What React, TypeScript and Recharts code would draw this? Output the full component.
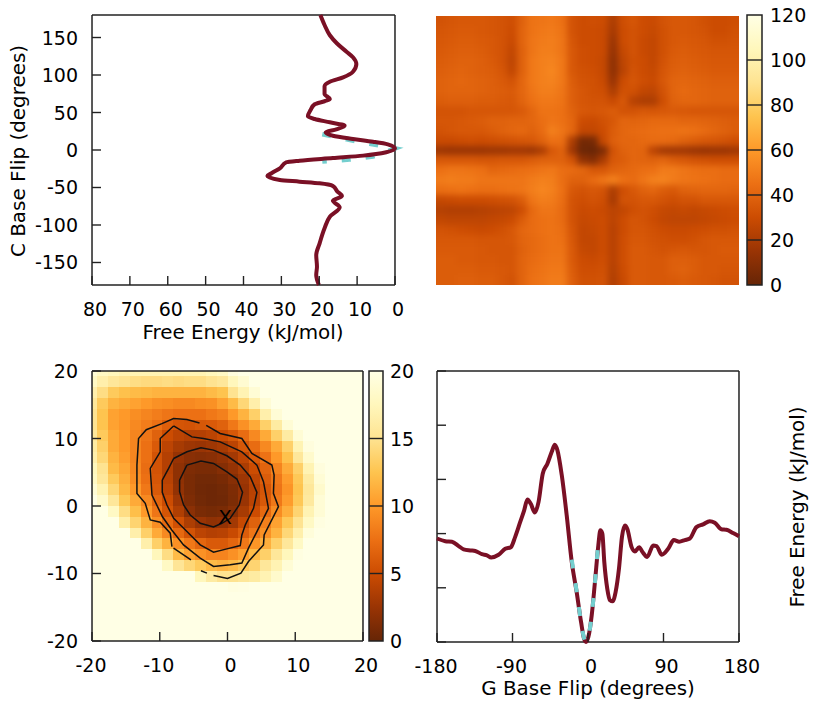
import React from 'react';
import {
  BarChart,
  Bar,
  ScatterChart,
  Scatter,
  XAxis,
  YAxis,
  ReferenceArea,
  ReferenceLine,
  ReferenceDot,
} from 'recharts';

const FONT = '"DejaVu Sans", sans-serif';
const INK = '#222';
const MAROON = '#7a1025';
const TEAL = '#74cfcf';

// C base flip free energy profile
const cFlipAngle = [180, 166.7, 153, 142, 131, 123.6, 114.7, 104.4, 96.9, 91, 85, 74.7, 68, 65, 61, 53.3, 45, 41.3, 36.9, 32.4, 27.6, 23.6, 19, 14.7, 11, 7.5, 2.2, -3, -7.5, -10.7, -14.2, -16.4, -24.4, -31, -34.7, -40, -42.2, -44.4, -48, -55.5, -61.3, -67.5, -76.4, -89, -104.4, -124.4, -140, -155.6, -166.7, -180];
const cFlipEnergy = [19.7, 18.6, 17.2, 15.3, 12.8, 11.1, 10.2, 11.1, 13.7, 17.2, 18.6, 18.6, 17.2, 18.6, 21.2, 22.3, 23, 21.2, 17.2, 13.3, 15.5, 18.3, 16.4, 11.1, 5.8, 1.9, 0, 2.3, 8.4, 16.4, 25.2, 28.7, 30.4, 32.6, 33.7, 30.4, 25.2, 19.9, 16.4, 15.2, 14, 16.4, 14.6, 17.2, 18.6, 19.9, 20.8, 20.6, 20.8, 20.1];
const cFitAngle = [21, 14.2, 8.4, 2, -8.7, -12.7, -15.4];
const cFitEnergy = [19.2, 12.8, 6.7, 0, 5.8, 12, 19.2];

// G base flip free energy profile
const gFlipAngle = [-180, -170.1, -162.2, -154.2, -148.3, -140.3, -134.4, -126.5, -120.5, -115.4, -106.6, -98.7, -92, -86.8, -80.9, -76.1, -72.2, -68.2, -63.4, -59, -53.9, -48.4, -43.2, -39.6, -36.5, -31.3, -25.4, -19.4, -13.5, -8.3, -4.7, -2.4, 0.4, 4.4, 8.3, 12.3, 14.7, 17.1, 19.4, 23, 26.2, 29.4, 32.9, 36.9, 40.5, 44, 46.8, 52, 55.9, 61, 65, 70.6, 77.7, 81.7, 88, 95.6, 102.3, 108.7, 115.4, 121.4, 129.3, 137.2, 145.1, 151.1, 159, 165, 172.9, 180];
const gFlipEnergy = [19.1, 18.6, 18.5, 17.7, 17.1, 16.9, 16.8, 16.2, 16, 15.6, 16.1, 17.2, 17.5, 19.4, 22.1, 24.3, 26.3, 25.5, 23.9, 25.8, 31.1, 32.9, 35.1, 36.4, 35.4, 30.8, 23.4, 14.8, 9.2, 3.7, 0.6, 0, 0.9, 4.9, 11.1, 17.8, 20.6, 20, 14.8, 9.8, 7.7, 7.5, 9.2, 13.5, 19.4, 21.5, 20.9, 17.5, 16.7, 17.5, 16.6, 15.7, 17.8, 17.7, 16.1, 17.2, 18.8, 18.5, 18.8, 19.1, 21.2, 21.7, 22.3, 22, 20.8, 20.7, 20.1, 19.5];
const gFitAngle = [-19.4, -13.5, -8.3, -4.7, -2.4, 0.4, 4.4, 8.3, 11.5];
const gFitEnergy = [15.2, 9.3, 3.7, 0.7, 0, 0.9, 4.9, 11, 17];

// 2D surface, 30 columns by 27 rows, top row first (0-120 kJ/mol)
const wideSurface = [
  [33, 34, 35, 35, 35, 34, 33, 31, 39, 46, 47, 48, 45, 33, 30, 31, 30, 21, 31, 34, 30, 29, 33, 35, 35, 34, 32, 30, 30, 31],
  [34, 35, 36, 36, 35, 34, 33, 30, 40, 46, 48, 49, 46, 33, 30, 30, 29, 19, 30, 33, 30, 28, 32, 35, 35, 34, 33, 30, 30, 32],
  [35, 36, 37, 37, 36, 35, 33, 29, 40, 47, 49, 50, 47, 34, 30, 30, 29, 16, 30, 33, 29, 27, 32, 35, 36, 35, 34, 32, 32, 33],
  [36, 37, 38, 38, 37, 35, 33, 27, 39, 47, 50, 50, 47, 35, 31, 30, 29, 14, 28, 33, 29, 27, 32, 36, 37, 36, 35, 34, 34, 34],
  [37, 38, 39, 39, 38, 36, 33, 26, 39, 48, 51, 52, 48, 35, 31, 30, 28, 12, 26, 32, 30, 27, 33, 37, 38, 37, 36, 35, 35, 35],
  [38, 39, 40, 39, 38, 37, 34, 27, 39, 48, 51, 53, 48, 35, 32, 31, 28, 12, 25, 33, 30, 28, 34, 38, 39, 38, 37, 36, 36, 36],
  [39, 40, 41, 40, 39, 38, 36, 33, 41, 48, 51, 52, 48, 37, 33, 32, 29, 15, 30, 34, 31, 29, 35, 40, 41, 40, 39, 38, 38, 38],
  [39, 40, 40, 40, 39, 38, 37, 36, 41, 47, 50, 50, 47, 38, 34, 32, 31, 21, 32, 32, 27, 26, 33, 40, 42, 41, 40, 39, 39, 39],
  [37, 38, 38, 38, 37, 37, 36, 35, 40, 45, 48, 48, 46, 38, 34, 33, 33, 29, 35, 24, 21, 21, 31, 39, 41, 41, 40, 39, 39, 39],
  [33, 33, 33, 34, 34, 34, 34, 34, 36, 41, 46, 46, 45, 39, 35, 34, 35, 37, 33, 33, 35, 34, 35, 36, 35, 34, 34, 34, 34, 34],
  [34, 34, 35, 36, 37, 39, 39, 40, 40, 41, 44, 47, 45, 41, 30, 29, 32, 35, 41, 40, 41, 42, 42, 42, 41, 41, 40, 39, 38, 37],
  [33, 34, 35, 35, 35, 37, 39, 41, 42, 39, 43, 51, 47, 41, 27, 27, 30, 37, 41, 42, 43, 44, 45, 45, 46, 45, 43, 41, 39, 37],
  [29, 29, 30, 31, 30, 31, 32, 33, 34, 35, 39, 45, 44, 21, 4, 5, 28, 38, 41, 41, 42, 43, 43, 42, 39, 37, 35, 34, 33, 31],
  [16, 15, 15, 15, 15, 16, 16, 17, 17, 16, 21, 35, 39, 17, 2, 1, 7, 33, 39, 41, 40, 25, 18, 17, 17, 15, 14, 15, 15, 17],
  [35, 35, 35, 35, 34, 34, 35, 35, 35, 37, 39, 39, 39, 33, 13, 9, 20, 35, 37, 41, 40, 39, 41, 37, 35, 33, 32, 31, 31, 31],
  [45, 47, 47, 46, 45, 41, 42, 43, 44, 45, 47, 48, 44, 43, 41, 35, 35, 39, 41, 42, 44, 45, 49, 49, 47, 45, 44, 44, 43, 43],
  [49, 50, 49, 49, 47, 47, 47, 47, 47, 49, 51, 50, 44, 39, 39, 43, 47, 51, 45, 43, 47, 51, 52, 49, 47, 46, 45, 44, 43, 43],
  [44, 45, 46, 45, 44, 44, 45, 46, 47, 50, 53, 51, 45, 35, 33, 35, 33, 21, 31, 35, 39, 41, 37, 35, 39, 40, 41, 41, 41, 40],
  [28, 29, 30, 30, 30, 31, 32, 33, 37, 47, 50, 49, 44, 33, 31, 33, 31, 19, 33, 33, 35, 35, 33, 31, 33, 33, 35, 35, 35, 35],
  [23, 22, 22, 22, 23, 24, 25, 26, 31, 42, 47, 47, 43, 33, 29, 30, 29, 25, 27, 31, 33, 31, 28, 27, 28, 27, 28, 29, 30, 31],
  [27, 26, 26, 26, 26, 27, 28, 30, 37, 43, 45, 46, 43, 33, 28, 29, 30, 25, 30, 34, 33, 30, 27, 26, 26, 26, 27, 28, 29, 30],
  [33, 32, 31, 30, 29, 30, 32, 35, 41, 43, 45, 46, 44, 34, 27, 28, 30, 24, 30, 34, 34, 32, 30, 29, 29, 30, 31, 32, 32, 33],
  [35, 35, 35, 35, 34, 34, 34, 35, 40, 42, 44, 46, 45, 35, 27, 27, 30, 24, 31, 35, 35, 33, 32, 31, 31, 32, 34, 35, 35, 35],
  [36, 36, 36, 36, 35, 34, 34, 34, 39, 42, 44, 46, 46, 36, 28, 27, 30, 24, 31, 36, 36, 34, 33, 34, 35, 34, 34, 35, 36, 36],
  [37, 37, 36, 36, 35, 35, 34, 34, 40, 43, 45, 47, 47, 36, 30, 29, 31, 24, 31, 36, 36, 35, 35, 38, 38, 37, 35, 35, 35, 35],
  [37, 37, 37, 37, 36, 36, 35, 34, 40, 44, 46, 48, 48, 37, 31, 31, 32, 23, 30, 36, 36, 35, 35, 38, 39, 37, 35, 35, 34, 34],
  [37, 37, 38, 38, 37, 37, 35, 33, 40, 45, 47, 49, 49, 38, 32, 32, 33, 22, 29, 36, 36, 35, 35, 36, 37, 36, 35, 34, 33, 33],
];

// zoomed surface around the minimum, bin edges clipped at +-20
const zoomEdges = [-20, -19.2, -17.6, -16, -14.4, -12.8, -11.2, -9.6, -8, -6.4, -4.8, -3.2, -1.6, 0, 1.6, 3.2, 4.8, 6.4, 8, 9.6, 11.2, 12.8, 14.4, 16, 17.6, 19.2, 20];
// top row first, rows and columns follow zoomEdges
const zoomSurface = [
  [19, 18, 17.5, 17, 17, 17, 17, 17, 17, 17, 17, 17.5, 18, 19.5, 20, 20, 20, 20, 20, 20, 20, 20, 20, 20, 20, 20],
  [18, 16.5, 15.5, 15, 14.5, 14.3, 14.3, 14.5, 14.3, 14.5, 14.5, 15, 15.5, 17.5, 18.8, 20, 20, 20, 20, 20, 20, 20, 20, 20, 20, 20],
  [16.5, 14.5, 13, 12.3, 12, 11.8, 11.5, 11.5, 11.5, 11.5, 11.5, 12, 12.5, 15, 17, 19, 20, 20, 20, 20, 20, 20, 20, 20, 20, 20],
  [15.5, 13, 11.5, 11, 10.5, 10, 9.5, 9.3, 9, 9, 9.3, 9.5, 10.5, 12, 14, 16.5, 19, 20, 20, 20, 20, 20, 20, 20, 20, 20],
  [15, 12.5, 10.5, 10, 9.3, 8.8, 8.3, 7.8, 7.5, 7.5, 7.5, 8, 8.5, 10, 11.5, 13.5, 16.5, 19, 20, 20, 20, 20, 20, 20, 20, 20],
  [15, 12.5, 10.5, 9.8, 9, 8.3, 7.5, 6.3, 5.6, 5.5, 5.8, 6, 6.5, 8, 9.5, 11, 13.5, 16, 19, 20, 20, 20, 20, 20, 20, 20],
  [15.5, 13, 11, 10, 8.8, 7.8, 6.5, 5, 4.2, 3.8, 3.8, 4.2, 5, 5.8, 7.2, 9, 11, 13.5, 16, 19, 20, 20, 20, 20, 20, 20],
  [16, 13.5, 11, 10, 8.8, 7.5, 6, 4.2, 3.2, 2.7, 2.5, 2.8, 3.2, 4.2, 5.8, 7.2, 9, 11, 13.5, 17, 19.5, 20, 20, 20, 20, 20],
  [16.5, 14, 11.5, 10.3, 8.8, 7.5, 5.5, 3.8, 2.4, 1.7, 1.5, 1.7, 2.2, 3, 4.3, 6, 7.6, 10, 12.3, 15.5, 18.5, 20, 20, 20, 20, 20],
  [17.5, 15, 12, 10.8, 9, 7.3, 5.5, 3.8, 2, 1.2, 1, 1, 1.5, 2.3, 3.4, 5, 6.7, 8.7, 11, 13.5, 17, 19.5, 20, 20, 20, 20],
  [18, 15.5, 13, 11.3, 9.3, 7.5, 5.7, 4, 2, 1, 0.6, 0.6, 0.9, 1.6, 2.7, 4.3, 6.2, 8, 10.2, 12.8, 16, 19, 20, 20, 20, 20],
  [19, 17, 14, 11.8, 10, 8, 6, 4.3, 2.2, 1, 0.5, 0.4, 0.6, 1.2, 2.4, 4, 5.7, 7.7, 9.7, 12.5, 15.5, 18.5, 20, 20, 20, 20],
  [20, 18.5, 15.5, 12.8, 11, 9, 6.8, 5, 2.8, 1.2, 0.6, 0.4, 0.5, 1.1, 2.5, 4.1, 5.9, 8, 10.2, 12.8, 15.8, 19, 20, 20, 20, 20],
  [20, 20, 18, 14.5, 12.2, 10, 7.8, 5.6, 3.6, 1.8, 1, 0.8, 1, 1.6, 3.2, 5, 7, 9.2, 11.2, 13.8, 17, 19, 20, 20, 20, 20],
  [20, 20, 20, 16.5, 13.8, 11.5, 9.3, 7, 5.3, 3.5, 2.5, 2, 2.2, 3, 4.7, 6.5, 8.5, 10.5, 12.8, 15, 18, 19.7, 20, 20, 20, 20],
  [20, 20, 20, 20, 16.5, 13.5, 11, 9, 7, 5.5, 4.2, 3.8, 4, 4.8, 6.2, 7.8, 9.5, 11.5, 14, 16.5, 19.3, 20, 20, 20, 20, 20],
  [20, 20, 20, 20, 20, 16.5, 13.5, 11.5, 9.5, 8, 6.8, 6, 6, 6.8, 8, 9.8, 11.3, 13.5, 15.5, 18, 20, 20, 20, 20, 20, 20],
  [20, 20, 20, 20, 20, 20, 17.5, 14.5, 12, 10.5, 9.5, 8.8, 8.7, 9.5, 10.5, 12, 13.5, 15.5, 17.5, 19.7, 20, 20, 20, 20, 20, 20],
  [20, 20, 20, 20, 20, 20, 20, 18, 15.3, 14, 13, 12, 11.5, 12, 13, 13.8, 15.5, 17, 19, 20, 20, 20, 20, 20, 20, 20],
  [20, 20, 20, 20, 20, 20, 20, 20, 20, 20, 17.5, 16, 15, 15, 15.5, 16, 17, 18.5, 20, 20, 20, 20, 20, 20, 20, 20],
  [20, 20, 20, 20, 20, 20, 20, 20, 20, 20, 20, 20, 20, 19.7, 19.8, 20, 20, 20, 20, 20, 20, 20, 20, 20, 20, 20],
  [20, 20, 20, 20, 20, 20, 20, 20, 20, 20, 20, 20, 20, 20, 20, 20, 20, 20, 20, 20, 20, 20, 20, 20, 20, 20],
  [20, 20, 20, 20, 20, 20, 20, 20, 20, 20, 20, 20, 20, 20, 20, 20, 20, 20, 20, 20, 20, 20, 20, 20, 20, 20],
  [20, 20, 20, 20, 20, 20, 20, 20, 20, 20, 20, 20, 20, 20, 20, 20, 20, 20, 20, 20, 20, 20, 20, 20, 20, 20],
  [20, 20, 20, 20, 20, 20, 20, 20, 20, 20, 20, 20, 20, 20, 20, 20, 20, 20, 20, 20, 20, 20, 20, 20, 20, 20],
  [20, 20, 20, 20, 20, 20, 20, 20, 20, 20, 20, 20, 20, 20, 20, 20, 20, 20, 20, 20, 20, 20, 20, 20, 20, 20],
];

// contour segments of the zoomed surface
const contours: number[][][] = [
  [[-5.99, 6.06], [-3.92, 6.65], [-2.06, 6.31], [-0.09, 5.07], [1.39, 3.99], [2.22, 2.02], [1.73, 0.15], [0.4, -1.82], [-0.83, -2.56], [-2.06, -3.1], [-4.02, -2.56], [-5.5, -1.33], [-6.48, 0.15], [-7.07, 2.12], [-7.07, 3.84], [-5.99, 6.06]],
  [[-7.95, 7.04], [-5.99, 8.03], [-3.92, 8.62], [-2.06, 8.28], [-0.09, 7.44], [1.88, 6.06], [3.35, 4.33], [4.34, 2.02], [3.84, -0.34], [2.62, -2.81], [2.12, -4.29], [1.88, -5.86], [-0.09, -6.35], [-2.06, -6.85], [-4.02, -5.76], [-5.99, -3.79], [-7.95, -1.82], [-8.94, 0.15], [-9.63, 2.02], [-9.63, 3.84], [-8.69, 5.57], [-7.95, 7.04]],
  [[-7.96, 11.86], [-5.25, 10.24], [-3.54, 10], [-1.08, 9.5], [2.12, 8.02], [4.34, 6.06], [5.31, 3.6], [6.05, -0.34], [4.34, -3.79], [3.1, -6.25], [2.12, -8.46], [0.4, -8.71], [-2.06, -8.96], [-4.03, -7.73], [-6.49, -5.76], [-8.2, -3.6], [-9.6, -1.6], [-11.15, 1.62], [-11.4, 5.57], [-9.93, 8.02], [-9.93, 10], [-7.96, 11.86]],
  [[-4.13, 12.3], [-5.99, 12.8], [-7.96, 12.95], [-9.68, 12.2], [-11.99, 11.3], [-13.13, 10], [-13.37, 6.06], [-13.37, 1.87], [-12.14, 0.39], [-11.4, -2.07], [-9.93, -2.41], [-8.45, -4.03], [-8.2, -6.01]],
  [[-7.96, -6.25], [-5.4, -7.98]],
  [[-3.92, -9.6], [-3.04, -9.94]],
  [[-2.06, -10.3], [0, -10.74], [1.98, -9.94], [3.1, -8.23], [5.31, -5.76], [5.41, -4.28], [7.52, -0.1], [6.78, 1.87], [6.88, 4.58], [6.55, 6.06], [3.6, 7.78], [2.12, 10], [-1.08, 10.74], [-3.14, 11.96]],
];
const minimumMark = { x: -0.37, y: -1.6 };

// tick labels
const cEnergyTicks = [80, 70, 60, 50, 40, 30, 20, 10, 0];
const cAngleTicks = [-150, -100, -50, 0, 50, 100, 150];
const zoomTicks = [-20, -10, 0, 10, 20];
const gAngleTicks = [-180, -90, 0, 90, 180];
const gEnergyTicks = [0, 10, 20, 30, 40, 50];
const wideBarTicks = [0, 20, 40, 60, 80, 100, 120];
const zoomBarTicks = [0, 5, 10, 15, 20];

// reversed YlOrBr palette, dark at 0
const paletteStops = ['#662506', '#993404', '#cc4c02', '#ec7014', '#fe9929', '#fec44f', '#fee391', '#fff7bc', '#ffffe5'];

const hexToRgb = (hex: string) => [1, 3, 5].map((i) => parseInt(hex.slice(i, i + 2), 16));

const paletteColor = (t: number) => {
  const p = Math.min(Math.max(t, 0), 1) * (paletteStops.length - 1);
  const i = Math.min(Math.floor(p), paletteStops.length - 2);
  const a = hexToRgb(paletteStops[i]);
  const b = hexToRgb(paletteStops[i + 1]);
  const mix = a.map((v, k) => Math.round(v + (b[k] - v) * (p - i)));
  return `rgb(${mix.join(',')})`;
};

const toPoints = (xs: number[], ys: number[]) => xs.map((x, i) => ({ x, y: ys[i] }));
const pairsToPoints = (pairs: number[][]) => pairs.map(([x, y]) => ({ x, y }));

const noMarker = () => <g />;

const textStyle = { fontFamily: FONT, fontSize: 19, fill: '#000' };
const titleStyle = { fontFamily: FONT, fontSize: 19.9, fill: '#000' };

// gnuplot style ticks: pointing inwards, with an optional label outside the frame
const frameTick = (side: string, labelled: boolean) => (props: any) => {
  const { x, y, payload } = props;
  const v = payload.value;
  const nudge = v < 0 ? -1 : 3;
  if (side === 'bottom') {
    return (
      <g>
        <line x1={x} x2={x} y1={y} y2={y - 9} stroke={INK} strokeWidth={1.4} />
        {labelled && <text x={x + nudge} y={y + 31} textAnchor="middle" style={textStyle}>{v}</text>}
      </g>
    );
  }
  if (side === 'top') {
    return <line x1={x} x2={x} y1={y} y2={y + 9} stroke={INK} strokeWidth={1.4} />;
  }
  if (side === 'left') {
    return (
      <g>
        <line x1={x} x2={x + 9} y1={y} y2={y} stroke={INK} strokeWidth={1.4} />
        {labelled && <text x={x - 14} y={y + 7} textAnchor="end" style={textStyle}>{v}</text>}
      </g>
    );
  }
  return (
    <g>
      <line x1={x} x2={x - 9} y1={y} y2={y} stroke={INK} strokeWidth={1.4} />
      {labelled && <text x={x + 20} y={y + 7} textAnchor="start" style={textStyle}>{v}</text>}
    </g>
  );
};

const axisLine = { stroke: INK, strokeWidth: 1.5 };

const THIN = 0.01;

const xAxisProps = (domain: number[], ticks: number[]) => ({
  type: 'number' as const,
  domain,
  ticks,
  interval: 0 as const,
  height: THIN,
  tickLine: false,
  tickSize: 0,
  tickMargin: 0,
  axisLine,
});

const yAxisProps = (domain: number[], ticks: number[]) => ({
  type: 'number' as const,
  domain,
  ticks,
  interval: 0 as const,
  width: THIN,
  tickLine: false,
  tickSize: 0,
  tickMargin: 0,
  axisLine,
});

const title = (text: string, x: number, y: number, rotated = false) => ({
  content: () => (
    <text
      x={x}
      y={y}
      textAnchor="middle"
      dominantBaseline="central"
      transform={rotated ? `rotate(-90 ${x} ${y})` : undefined}
      style={titleStyle}
    >
      {text}
    </text>
  ),
});

const canvas = { position: 'absolute' as const, left: 0, top: 0 };

const boxMargin = (left: number, top: number, right: number, bottom: number) => ({
  left,
  top,
  right: 830 - right,
  bottom: 712 - bottom,
});

function CFlipPanel() {
  return (
    <div style={canvas}>
      <ScatterChart width={830} height={712} margin={boxMargin(92, 15, 395, 285)}>
        <XAxis dataKey="x" reversed {...xAxisProps([0, 80], cEnergyTicks)} tick={frameTick('bottom', true)} label={title('Free Energy (kJ/mol)', 243, 332)} />
        <XAxis xAxisId="top" orientation="top" reversed {...xAxisProps([0, 80], cEnergyTicks)} tick={frameTick('top', false)} />
        <YAxis dataKey="y" {...yAxisProps([-180, 180], cAngleTicks)} tick={frameTick('left', true)} label={title('C Base Flip (degrees)', 18, 151, true)} />
        <YAxis yAxisId="right" orientation="right" {...yAxisProps([-180, 180], cAngleTicks)} tick={frameTick('right', false)} />
        <Scatter data={toPoints(cFitEnergy, cFitAngle)} shape={noMarker} isAnimationActive={false} line={{ stroke: TEAL, strokeWidth: 4.6, strokeDasharray: '9 15' }} />
        <Scatter data={toPoints(cFlipEnergy, cFlipAngle)} shape={noMarker} isAnimationActive={false} line={{ stroke: MAROON, strokeWidth: 4, strokeLinejoin: 'round' }} lineJointType="monotoneY" />
      </ScatterChart>
    </div>
  );
}

const WIDE_WIDTH = 303;
const WIDE_HEIGHT = 269;
const BLEED = 20;

function WideSurfacePanel() {
  const nRows = wideSurface.length;
  const nCols = wideSurface[0].length;
  const xBleed = (BLEED / WIDE_WIDTH) * 360;
  const yBleed = (BLEED / WIDE_HEIGHT) * 360;
  const colW = 360 / nCols;
  const rowH = 360 / nRows;
  const xLimits = [-180 - xBleed, 180 + xBleed];
  const yLimits = [-180 - yBleed, 180 + yBleed];
  return (
    <div style={{ position: 'absolute', left: 436, top: 16, width: WIDE_WIDTH, height: WIDE_HEIGHT, overflow: 'hidden' }}>
      <div style={{ position: 'absolute', left: -BLEED, top: -BLEED, filter: 'blur(3px)' }}>
        <ScatterChart width={WIDE_WIDTH + 2 * BLEED} height={WIDE_HEIGHT + 2 * BLEED} margin={{ left: 0, right: 0, top: 0, bottom: 0 }}>
          <XAxis dataKey="x" {...xAxisProps(xLimits, [])} axisLine={false} />
          <YAxis dataKey="y" {...yAxisProps(yLimits, [])} axisLine={false} />
          {wideSurface.map((row, r) =>
            row.map((v, c) => (
              <ReferenceArea
                key={`${r}-${c}`}
                x1={c === 0 ? xLimits[0] : -180 + c * colW}
                x2={c === nCols - 1 ? xLimits[1] : -180 + (c + 1) * colW}
                y1={r === nRows - 1 ? yLimits[0] : 180 - (r + 1) * rowH}
                y2={r === 0 ? yLimits[1] : 180 - r * rowH}
                fill={paletteColor(v / 120)}
                fillOpacity={1}
                stroke="none"
                shapeRendering="crispEdges"
                ifOverflow="visible"
              />
            ))
          )}
          <Scatter data={toPoints(xLimits, yLimits)} shape={noMarker} isAnimationActive={false} />
        </ScatterChart>
      </div>
    </div>
  );
}

function ColorBar({ left, right, max, ticks, gradientId, labelX }: { left: number; right: number; max: number; ticks: number[]; gradientId: string; labelX: number }) {
  const top = gradientId === 'wideBar' ? 15 : 371;
  const bottom = gradientId === 'wideBar' ? 285 : 641;
  const barTick = (props: any) => (
    <text x={props.x + labelX} y={props.y + 7} textAnchor="start" style={textStyle}>{props.payload.value}</text>
  );
  return (
    <div style={canvas}>
      <BarChart width={830} height={712} data={[{ name: 'scale', value: max }]} margin={boxMargin(left, top, right, bottom)} barCategoryGap={0}>
        <defs>
          <linearGradient id={gradientId} x1="0" y1="1" x2="0" y2="0">
            {paletteStops.map((color, i) => (
              <stop key={color} offset={i / (paletteStops.length - 1)} stopColor={color} />
            ))}
          </linearGradient>
        </defs>
        <XAxis dataKey="name" hide />
        <YAxis orientation="right" {...yAxisProps([0, max], ticks)} axisLine={false} tick={barTick} />
        <Bar dataKey="value" fill={`url(#${gradientId})`} stroke={INK} strokeWidth={1.5} isAnimationActive={false} />
        {ticks.slice(1, -1).map((t) => (
          <ReferenceLine key={t} y={t} stroke={INK} strokeWidth={1.4} />
        ))}
      </BarChart>
    </div>
  );
}

function ZoomSurfacePanel() {
  return (
    <div style={canvas}>
      <ScatterChart width={830} height={712} margin={boxMargin(92, 371, 363, 641)}>
        <XAxis dataKey="x" {...xAxisProps([-20, 20], zoomTicks)} tick={frameTick('bottom', true)} />
        <XAxis xAxisId="top" orientation="top" {...xAxisProps([-20, 20], zoomTicks)} tick={frameTick('top', false)} />
        <YAxis dataKey="y" {...yAxisProps([-20, 20], zoomTicks)} tick={frameTick('left', true)} />
        <YAxis yAxisId="right" orientation="right" {...yAxisProps([-20, 20], zoomTicks)} tick={frameTick('right', false)} />
        {zoomSurface.map((row, r) =>
          row.map((v, c) => (
            <ReferenceArea
              key={`${r}-${c}`}
              x1={zoomEdges[c]}
              x2={zoomEdges[c + 1]}
              y1={zoomEdges[zoomEdges.length - 2 - r]}
              y2={zoomEdges[zoomEdges.length - 1 - r]}
              fill={paletteColor(v / 20)}
              fillOpacity={1}
              stroke="none"
              shapeRendering="crispEdges"
            />
          ))
        )}
        {contours.map((segment, i) => (
          <Scatter key={i} data={pairsToPoints(segment)} shape={noMarker} isAnimationActive={false} line={{ stroke: '#111', strokeWidth: 1.5 }} />
        ))}
        <ReferenceDot
          x={minimumMark.x}
          y={minimumMark.y}
          r={0}
          fill="none"
          stroke="none"
          label={{ value: 'X', position: 'center', style: titleStyle }}
        />
      </ScatterChart>
    </div>
  );
}

function GFlipPanel() {
  return (
    <div style={canvas}>
      <ScatterChart width={830} height={712} margin={boxMargin(437, 371, 739, 642)}>
        <XAxis dataKey="x" {...xAxisProps([-180, 180], gAngleTicks)} tick={frameTick('bottom', true)} label={title('G Base Flip (degrees)', 588, 688)} />
        <XAxis xAxisId="top" orientation="top" {...xAxisProps([-180, 180], gAngleTicks)} tick={frameTick('top', false)} />
        <YAxis dataKey="y" {...yAxisProps([0, 50], gEnergyTicks)} tick={frameTick('left', false)} />
        <YAxis yAxisId="right" orientation="right" {...yAxisProps([0, 50], gEnergyTicks)} tick={frameTick('right', true)} label={title('Free Energy (kJ/mol)', 797, 507, true)} />
        <Scatter data={toPoints(gFlipAngle, gFlipEnergy)} shape={noMarker} isAnimationActive={false} line={{ stroke: MAROON, strokeWidth: 4, strokeLinejoin: 'round' }} lineJointType="monotoneX" />
        <Scatter data={toPoints(gFitAngle, gFitEnergy)} shape={noMarker} isAnimationActive={false} line={{ stroke: TEAL, strokeWidth: 4, strokeDasharray: '9 15' }} lineJointType="monotoneX" />
      </ScatterChart>
    </div>
  );
}

export default function App() {
  return (
    <div style={{ position: 'absolute', left: 0, top: 0, width: 830, height: 712, background: '#fff', overflow: 'hidden' }}>
      <WideSurfacePanel />
      <ZoomSurfacePanel />
      <CFlipPanel />
      <GFlipPanel />
      <ColorBar left={747} right={762} max={120} ticks={wideBarTicks} gradientId="wideBar" labelX={8} />
      <ColorBar left={369} right={383} max={20} ticks={zoomBarTicks} gradientId="zoomBar" labelX={7} />
    </div>
  );
}
